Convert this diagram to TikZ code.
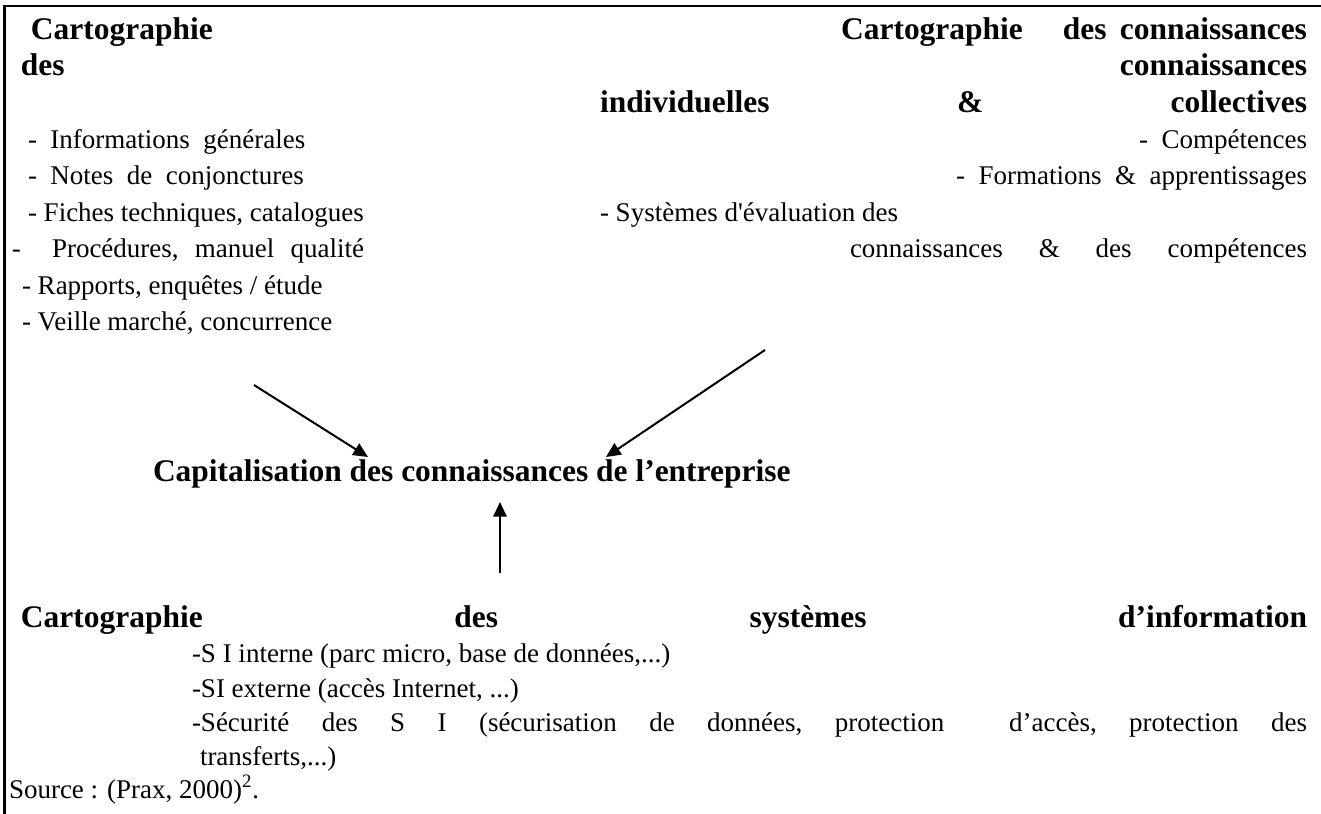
\documentclass[tikz,border=0pt]{standalone}
\usepackage{fontspec}
\setmainfont{Liberation Serif}
\usetikzlibrary{arrows.meta}

\tikzset{
  body/.style={font=\fontsize{20.25pt}{24pt}\selectfont, inner sep=0pt, outer sep=0pt},
  head/.style={font=\fontsize{23.6pt}{28pt}\selectfont\bfseries, inner sep=0pt, outer sep=0pt},
  arr/.style={line width=1.5pt, -{Triangle[length=11pt,width=10pt]}},
  frame/.style={line width=1.8pt}
}

\begin{document}
\begin{tikzpicture}[x=0.75pt,y=-0.75pt]
\useasboundingbox (0,0) rectangle (1321,814);

% frame (top and left edges of the box)
\draw[frame] (4.5,814) -- (4.5,6) -- (1321,6);

% ---- upper left: documents ----
\node[head, anchor=base west] (cartoA) at (31,39) {Cartographie};
\node[head, anchor=base west] (desA) at (21,75) {des};
\node[body, anchor=base west] (infos) at (28,148) {-\ \ Informations\ \ générales};
\node[body, anchor=base west] (notes) at (28,184) {-\ \ Notes\ \ de\ \ conjonctures};
\node[body, anchor=base west] (fiches) at (28,221) {- Fiches techniques, catalogues};
\node[body, anchor=base west] (procdash) at (12,257) {-};
\node[body, anchor=base west] (proc) at (52,257) {\makebox[234pt][s]{Procédures,\hfill manuel\hfill qualité}};
\node[body, anchor=base west] (rapports) at (22,294) {- Rapports, enquêtes / étude};
\node[body, anchor=base west] (veille) at (22,330) {- Veille marché, concurrence};

% ---- upper right: knowledge ----
\node[head, anchor=base east] (cartoB) at (1307,39) {Cartographie\hspace{30pt}des\hspace{10pt}connaissances};
\node[head, anchor=base east] (connB) at (1307,75) {connaissances};
\node[head, anchor=base west] (indiv) at (600,112) {\makebox[530.25pt]{individuelles\hfill\&\hfill collectives}};
\node[body, anchor=base east] (comp) at (1307,148) {-\ \ Compétences};
\node[body, anchor=base east] (form) at (1307,184) {-\ \ Formations\ \ \&\ \ apprentissages};
\node[body, anchor=base west] (syst) at (600,221) {- Systèmes d\textquotesingle évaluation des};
\node[body, anchor=base west] (systb) at (850,257) {\makebox[342.75pt]{connaissances\hfill\&\hfill des\hfill compétences}};

% ---- centre ----
\node[head, anchor=base west] (cap) at (153,481) {Capitalisation des connaissances de l’entreprise};

% ---- lower block: information systems ----
\node[head, anchor=base west] (cartoC) at (21,627) {\makebox[964.5pt]{Cartographie\hfill des\hfill systèmes\hfill d’information}};
\node[body, anchor=base west] (siint) at (192,662) {-S I interne (parc micro, base de données,...)};
\node[body, anchor=base west] (siext) at (192,697) {-SI externe (accès Internet, ...)};
\node[body, anchor=base west] (secu) at (192,731) {\makebox[836.25pt]{-Sécurité\hfill des\hfill S\hfill I\hfill (sécurisation\hfill de\hfill données,\hfill protection\hfill\hfill d’accès,\hfill protection\hfill des}};
\node[body, anchor=base west] (transf) at (200,765) {transferts,...)};
\node[body, anchor=base west] (source) at (9,798) {Source : (Prax, 2000)\textsuperscript{2}.};

% ---- arrows ----
\coordinate (lA) at (254,385);
\coordinate (lB) at (368,457);
\coordinate (rA) at (765,350);
\coordinate (rB) at (606,457);
\coordinate (vA) at (500,573);
\coordinate (vB) at (500,502);
\draw[arr] (lA) -- (lB);
\draw[arr] (rA) -- (rB);
\draw[arr] (vA) -- (vB);
\end{tikzpicture}
\end{document}
